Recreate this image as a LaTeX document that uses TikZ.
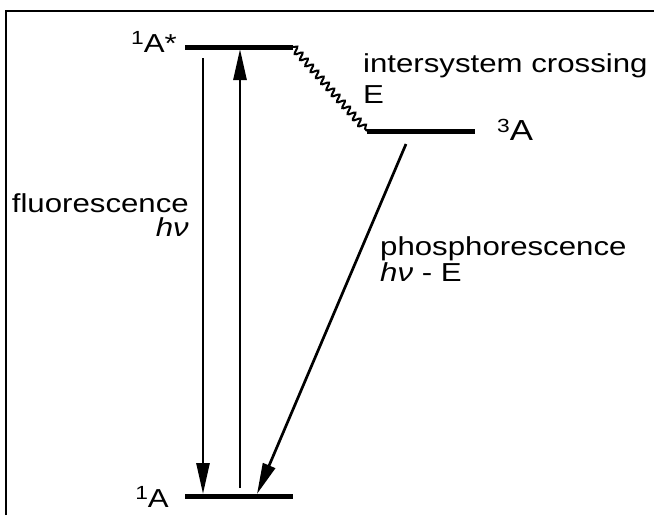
\documentclass[tikz,border=0pt]{standalone}
\usepackage{fontspec}
\setmainfont{Liberation Sans}[FakeStretch=1.2]
\usetikzlibrary{arrows.meta, positioning, decorations.pathmorphing}
\newcommand{\supnum}[1]{\raisebox{7.5pt}{\fontsize{19}{19}\selectfont #1}}

\begin{document}
\begin{tikzpicture}[
    x=1pt, y=-1pt,
    level/.style={line width=5pt},
    emit/.style={line width=2.7pt, -{Triangle[length=31pt, width=13pt]}},
    wavy/.style={line width=2pt, decorate, decoration={snake, amplitude=3.5pt, segment length=8pt}},
    lbl/.style={font=\fontsize{26}{23.5}\selectfont, inner sep=0pt},
    state/.style={font=\fontsize{26}{26}\selectfont, inner sep=0pt},
]
    \useasboundingbox (0,0) rectangle (654,515);
    % frame
    \draw[line width=2.3pt] (6,515) -- (6,11) -- (654,11);

    % energy levels
    \coordinate (s1l) at (185,47);
    \coordinate (s1r) at (293,47);
    \coordinate (t1l) at (367,131);
    \coordinate (t1r) at (475,131);
    \coordinate (s0l) at (185,496);
    \coordinate (s0r) at (293,496);
    \draw[level] (s1l) -- (s1r);
    \draw[level] (t1l) -- (t1r);
    \draw[level] (s0l) -- (s0r);

    \node[state, anchor=base east] (s1lbl) at (177,52) {\supnum{1}A*};
    \node[state, font=\fontsize{29}{29}\selectfont, anchor=base west] (t1lbl) at (497,140) {\supnum{3}A};
    \node[state, anchor=base east] (s0lbl) at (169,507) {\supnum{1}A};

    % transitions
    \coordinate (fltop) at (203,58);
    \coordinate (flbot) at (203,494);
    \coordinate (abbot) at (240,488);
    \coordinate (abtop) at (240,49);
    \coordinate (phtop) at (406,144);
    \coordinate (phbot) at (257,494);
    \draw[emit] (fltop) -- (flbot);
    \draw[emit] (abbot) -- (abtop);
    \draw[emit] (phtop) -- (phbot);
    \draw[wavy] (s1r) -- (t1l);

    \node[lbl, font=\fontsize{26}{31}\selectfont, anchor=base west, align=left] (isc) at (363,103) {intersystem crossing\\E};
    \node[lbl, anchor=base east, align=right] (fluo) at (189,236) {fluorescence\\\textit{hν}};
    \node[lbl, anchor=base west, align=left] (phos) at (380,281) {phosphorescence\\\textit{hν} - E};
\end{tikzpicture}
\end{document}
